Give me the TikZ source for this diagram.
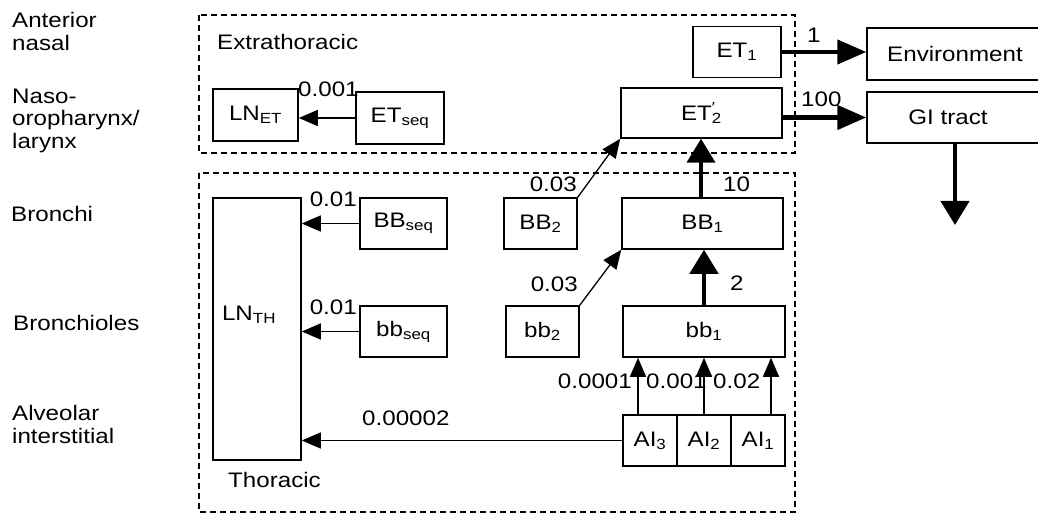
\documentclass[tikz,border=0pt]{standalone}
\usepackage{fontspec}
\setmainfont[FakeStretch=1.15]{Liberation Sans}
\usetikzlibrary{arrows.meta}
\tikzset{
  box/.style={draw, line width=1.5pt, inner sep=0pt, anchor=center},
  region/.style={draw, line width=1.2pt, dash pattern=on 6pt off 4pt},
  thinarrow/.style={line width=1.3pt, -{Triangle[length=19pt,width=16pt]}},
  thickh/.style={line width=4.5pt, -{Triangle[length=29pt,width=24pt]}},
  thickv/.style={line width=4.5pt, -{Triangle[length=24pt,width=28pt]}},
  lbl/.style={inner sep=0pt}
}
\begin{document}
\begin{tikzpicture}[x=1pt, y=-1pt, font=\fontsize{21}{24}\selectfont]
\useasboundingbox (0,0) rectangle (1038,513);
% regions
\draw[region] (199,15) rectangle (795,153);
\draw[region] (199,173) rectangle (795,512);
\node[lbl, anchor=base west] (extra) at (217,50) {Extrathoracic};
\node[lbl, anchor=base west] (thor) at (228,487) {Thoracic};
% row labels
\node[lbl, anchor=base west] (r1a) at (12,28) {Anterior};
\node[lbl, anchor=base west] (r1b) at (12,51) {nasal};
\node[lbl, anchor=base west] (r2a) at (12,104) {Naso-};
\node[lbl, anchor=base west] (r2b) at (12,126) {oropharynx/};
\node[lbl, anchor=base west] (r2c) at (12,149) {larynx};
\node[lbl, anchor=base west] (r3) at (11,222) {Bronchi};
\node[lbl, anchor=base west] (r4) at (13,330) {Bronchioles};
\node[lbl, anchor=base west] (r5a) at (12,420) {Alveolar};
\node[lbl, anchor=base west] (r5b) at (12,443) {interstitial};
% boxes
\node[box, minimum width=85pt, minimum height=52pt] (LNET) at (255.5,115) {LN\textsubscript{ET}};
\node[box, minimum width=88pt, minimum height=52pt] (ETseq) at (400,118) {ET\textsubscript{seq}};
\node[box, minimum width=88pt, minimum height=51pt] (ET1) at (737,52) {ET\textsubscript{1}};
\node[box, minimum width=161pt, minimum height=50pt] (ET2) at (701.5,113) {ET\rlap{\textsuperscript{\char"2032}}\textsubscript{2}};
\node[box, minimum width=178pt, minimum height=52pt] (Env) at (956,54) {};
\node[lbl] (Envt) at (955,54) {Environment};
\node[box, minimum width=178pt, minimum height=51pt] (GI) at (956,117.5) {};
\node[lbl] (GIt) at (948,117.5) {GI tract};
\coordinate (GIend) at (955,225);
\node[box, minimum width=88pt, minimum height=262pt] (LNTH) at (257,329) {};
\node[lbl, anchor=base] (LNTHt) at (249,320) {LN\textsubscript{TH}};
\node[box, minimum width=87pt, minimum height=51pt] (BBseq) at (403.5,223.5) {BB\textsubscript{seq}};
\node[box, minimum width=87pt, minimum height=51pt] (bbseq) at (403.5,331.5) {bb\textsubscript{seq}};
\node[box, minimum width=73pt, minimum height=51pt] (BB2) at (540.5,223.5) {BB\textsubscript{2}};
\node[box, minimum width=73pt, minimum height=51pt] (bb2) at (542.5,331.5) {bb\textsubscript{2}};
\node[box, minimum width=161pt, minimum height=51pt] (BB1) at (702.5,223.5) {BB\textsubscript{1}};
\node[box, minimum width=162pt, minimum height=51pt] (bb1) at (704,331.5) {bb\textsubscript{1}};
\node[box, minimum width=54pt, minimum height=51pt] (AI3) at (650,440.5) {AI\textsubscript{3}};
\node[box, minimum width=54pt, minimum height=51pt] (AI2) at (704,440.5) {AI\textsubscript{2}};
\node[box, minimum width=54pt, minimum height=51pt] (AI1) at (758,440.5) {AI\textsubscript{1}};
% connectors
\draw[thinarrow] (ETseq.west) -- (ETseq.west -| LNET.east);
\draw[thinarrow] (BBseq.west) -- (BBseq.west -| LNTH.east);
\draw[thinarrow] (bbseq.west) -- (bbseq.west -| LNTH.east);
\draw[thinarrow] (AI3.west) -- (AI3.west -| LNTH.east);
\draw[thinarrow] (BB2.north east) -- (ET2.south west);
\draw[thinarrow] (bb2.north east) -- (BB1.south west);
\draw[thinarrow] ([xshift=-12pt]AI3.north) -- ([xshift=-12pt]AI3.north |- bb1.south);
\draw[thinarrow] (AI2.north) -- (AI2.north |- bb1.south);
\draw[thinarrow] ([xshift=13pt]AI1.north) -- ([xshift=13pt]AI1.north |- bb1.south);
\draw[thickv] ([xshift=-1.5pt]BB1.north) -- ([xshift=-1.5pt]BB1.north |- ET2.south);
\draw[thickv] (bb1.north) -- (bb1.north |- BB1.south);
\draw[thickh] (ET1.east) -- (ET1.east -| Env.west);
\draw[thickh] (ET2.east |- GI.west) -- (GI.west);
\draw[thickv] (GI.south -| GIend) -- (GIend);
% connector labels
\node[lbl, anchor=base west] (l1) at (298,97) {0.001};
\node[lbl, anchor=base east] (l2) at (357,206) {0.01};
\node[lbl, anchor=base east] (l3) at (357,314) {0.01};
\node[lbl, anchor=base east] (l4) at (577,192) {0.03};
\node[lbl, anchor=base east] (l5) at (578,291) {0.03};
\node[lbl, anchor=base west] (l6) at (723,192) {10};
\node[lbl, anchor=base west] (l7) at (730,290) {2};
\node[lbl, anchor=base west] (l8) at (807,43) {1};
\node[lbl, anchor=base west] (l9) at (801,107) {100};
\node[lbl, anchor=base east] (l10) at (632,388) {0.0001};
\node[lbl, anchor=base west] (l11) at (646,388) {0.001};
\node[lbl, anchor=base west] (l12) at (713,388) {0.02};
\node[lbl, anchor=base west] (l13) at (362,425) {0.00002};
\end{tikzpicture}
\end{document}
